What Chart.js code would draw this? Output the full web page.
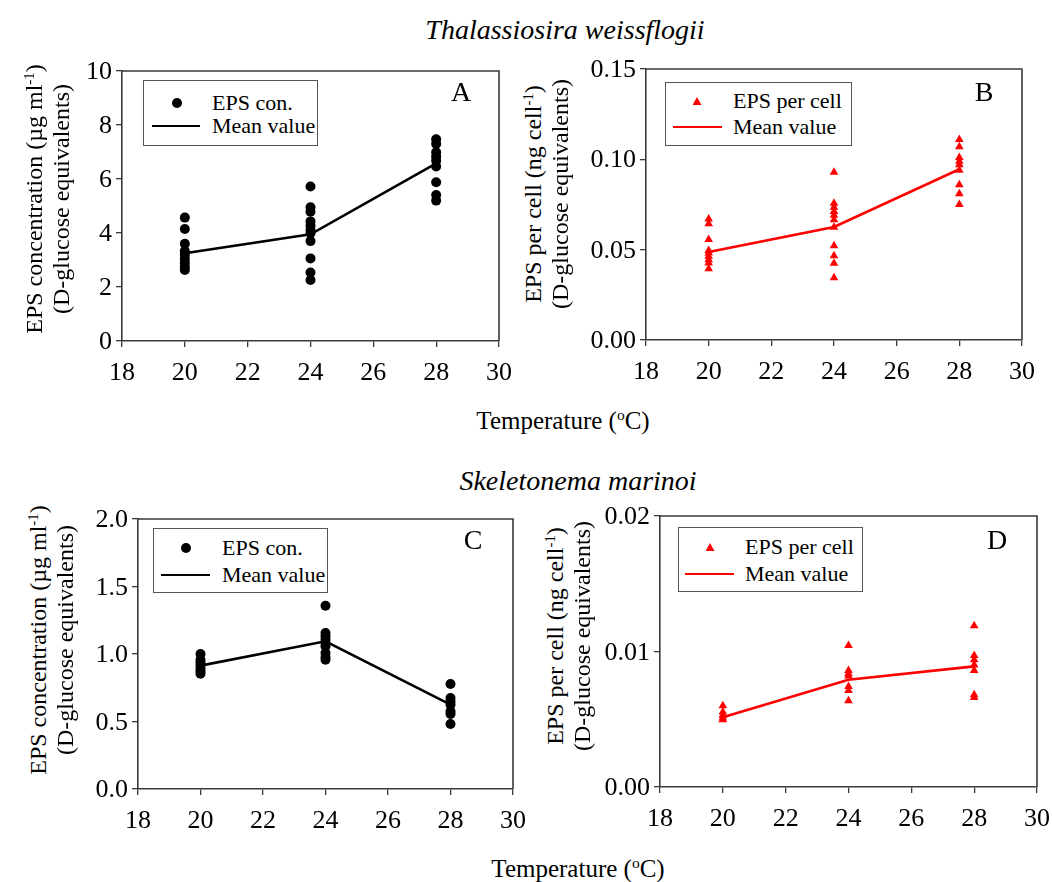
<!DOCTYPE html>
<html>
<head>
<meta charset="utf-8">
<script src="https://cdn.jsdelivr.net/npm/chart.js@4.4.1/dist/chart.umd.min.js"></script>
<style>
  html, body { margin:0; padding:0; background:#fff; }
  #page { position:relative; width:1052px; height:882px; overflow:hidden; font-family:"Liberation Serif","Times New Roman",serif; color:#000; }
  canvas { position:absolute; }
  .t { position:absolute; white-space:nowrap; line-height:1; }
  .sup { font-size:0.62em; position:relative; top:-0.55em; }
  .leg { position:absolute; border:1px solid #555; background:#fff; box-sizing:border-box; }
</style>
</head>
<body>
<div id="page"></div>
<script>
// ---------------- DATA ----------------
const temps = [20, 24, 28];
const xTicks = [18, 20, 22, 24, 26, 28, 30];

// Panel A: Thalassiosira weissflogii, EPS concentration (µg ml-1)
const A20 = [4.57, 4.15, 3.60, 3.33, 3.19, 3.04, 2.90, 2.75, 2.63];
const A24 = [5.72, 4.95, 4.79, 4.43, 4.27, 4.11, 3.99, 3.70, 3.06, 2.54, 2.26];
const A28 = [7.47, 7.30, 6.99, 6.83, 6.68, 6.46, 5.88, 5.41, 5.20];
const AMean = [3.25, 3.95, 6.58];
const ATicks = [0, 2, 4, 6, 8, 10];

// Panel B: Thalassiosira weissflogii, EPS per cell (ng cell-1)
const B20 = [0.0670, 0.0643, 0.0556, 0.0496, 0.0481, 0.0463, 0.0444, 0.0426, 0.0394];
const B24 = [0.0929, 0.0757, 0.0735, 0.0711, 0.0690, 0.0665, 0.0624, 0.0521, 0.0467, 0.0425, 0.0345];
const B28 = [0.111, 0.107, 0.101, 0.099, 0.097, 0.094, 0.086, 0.081, 0.075];
const BMean = [0.0487, 0.0626, 0.0945];
const BTicks = [0.00, 0.05, 0.10, 0.15];

// Panel C: Skeletonema marinoi, EPS concentration
const C20 = [1.00, 0.958, 0.938, 0.914, 0.891, 0.872, 0.854];
const C24 = [1.358, 1.156, 1.131, 1.106, 1.081, 1.057, 1.007, 0.978, 0.958];
const C28 = [0.778, 0.674, 0.649, 0.625, 0.575, 0.556, 0.481];
const CMean = [0.914, 1.094, 0.625];
const CTicks = [0.0, 0.5, 1.0, 1.5, 2.0];

// Panel D: Skeletonema marinoi, EPS per cell
const D20 = [0.0060, 0.00553, 0.00528, 0.00510, 0.00496];
const D24 = [0.01044, 0.0086, 0.00835, 0.0082, 0.00742, 0.00712, 0.00636];
const D28 = [0.0119, 0.0097, 0.0094, 0.0090, 0.0086, 0.0068, 0.0066];
const DMean = [0.00514, 0.00791, 0.0089];
const DTicks = [0.00, 0.01, 0.02];

// ---------------- LAYOUT ----------------
const page = document.getElementById('page');
const AXIS = '#3a3a3a';
const TICK_SIZE = 26;

function txt(html, x, y, o) {
  o = o || {};
  const d = document.createElement('div');
  d.className = 't';
  d.innerHTML = html;
  d.style.fontSize = (o.size || 22) + 'px';
  if (o.italic) d.style.fontStyle = 'italic';
  d.style.left = x + 'px';
  d.style.top = y + 'px';
  let tr = o.anchor === 'left' ? 'translate(0,-50%)'
         : o.anchor === 'right' ? 'translate(-100%,-50%)'
         : 'translate(-50%,-50%)';
  if (o.rotate) tr += ' rotate(-90deg)';
  d.style.transform = tr;
  page.appendChild(d);
}

function scatterData(groups) {
  const out = [];
  groups.forEach((g, i) => g.forEach(v => out.push({ x: temps[i], y: v })));
  return out;
}
function lineData(m) { return m.map((v, i) => ({ x: temps[i], y: v })); }

const framePlugin = {
  id: 'frame',
  afterDraw(chart) {
    const a = chart.chartArea, c = chart.ctx;
    c.save();
    c.strokeStyle = AXIS; c.lineWidth = 1.6;
    c.beginPath();
    c.moveTo(a.left, a.top); c.lineTo(a.right, a.top); c.lineTo(a.right, a.bottom);
    c.stroke();
    c.restore();
  }
};

// Tick labels as page text, placed with the chart's own scales
const tickTextPlugin = {
  id: 'tickText',
  afterDraw(chart) {
    if (chart.$tickDone) return;
    chart.$tickDone = true;
    const off = chart.$offset, dec = chart.$decimals;
    const xs = chart.scales.x, ys = chart.scales.y;
    xs.ticks.forEach(t => {
      txt(String(t.value), off[0] + xs.getPixelForValue(t.value), off[1] + xs.top + 31, { size: TICK_SIZE });
    });
    ys.ticks.forEach(t => {
      txt(Number(t.value).toFixed(dec), off[0] + ys.right - 10, off[1] + ys.getPixelForValue(t.value), { size: TICK_SIZE, anchor: 'right' });
    });
  }
};

function makePanel(area, groups, mean, yTicks, decimals, color, style) {
  const [L, T, R, B] = area;
  const cv = document.createElement('canvas');
  const w = R - L + 90, h = B - T + 60;
  cv.width = w; cv.height = h;
  cv.style.left = (L - 80) + 'px'; cv.style.top = (T - 10) + 'px';
  cv.style.width = w + 'px'; cv.style.height = h + 'px';
  page.appendChild(cv);
  const ch = new Chart(cv, {
    type: 'scatter',
    data: {
      datasets: [
        { type: 'line', data: lineData(mean), borderColor: color, borderWidth: 2.6, pointRadius: 0, fill: false, tension: 0, order: 2 },
        { type: 'scatter', data: scatterData(groups), pointStyle: style, pointRadius: 5, pointHoverRadius: 5,
          backgroundColor: color, borderColor: color, borderWidth: 0, order: 1 }
      ]
    },
    options: {
      responsive: false, animation: false, devicePixelRatio: 1,
      layout: { padding: { left: 0, top: 10, right: 10, bottom: 0 } },
      plugins: { legend: { display: false }, tooltip: { enabled: false } },
      scales: {
        x: {
          type: 'linear', min: xTicks[0], max: xTicks[xTicks.length - 1],
          afterBuildTicks: s => { s.ticks = xTicks.map(v => ({ value: v })); },
          afterFit: s => { s.height = 50; },
          grid: { display: true, drawOnChartArea: false, drawTicks: true, tickLength: 6, color: AXIS, lineWidth: 1.3 },
          border: { display: true, color: AXIS, width: 1.6 },
          ticks: { display: false }
        },
        y: {
          type: 'linear', min: yTicks[0], max: yTicks[yTicks.length - 1],
          afterBuildTicks: s => { s.ticks = yTicks.map(v => ({ value: v })); },
          afterFit: s => { s.width = 80; },
          grid: { display: true, drawOnChartArea: false, drawTicks: true, tickLength: 6, color: AXIS, lineWidth: 1.3 },
          border: { display: true, color: AXIS, width: 1.6 },
          ticks: { display: false }
        }
      }
    },
    plugins: [framePlugin, tickTextPlugin]
  });
  return ch;
}

function setupPanel(area, groups, mean, yTicks, decimals, color, style) {
  // offset and decimals must be known before the first draw
  const origDraw = Chart.prototype.draw;
  const [L, T] = area;
  Chart.prototype.$pending = { off: [L - 80, T - 10], dec: decimals };
  return makePanel(area, groups, mean, yTicks, decimals, color, style);
}

// register offsets through a beforeInit hook
Chart.register({
  id: 'offsetInit',
  beforeInit(chart) {
    const p = Chart.prototype.$pending;
    chart.$offset = p.off; chart.$decimals = p.dec;
  }
});

function legend(box, marker, color, label1, mk, lineX, textX, y1, y2) {
  const d = document.createElement('div');
  d.className = 'leg';
  d.style.left = box[0] + 'px'; d.style.top = box[1] + 'px';
  d.style.width = (box[2] - box[0]) + 'px'; d.style.height = (box[3] - box[1]) + 'px';
  page.appendChild(d);
  const m = document.createElement('div');
  m.style.position = 'absolute';
  if (marker === 'circle') {
    m.style.width = '10px'; m.style.height = '10px'; m.style.borderRadius = '50%';
    m.style.background = color; m.style.left = (mk - 5) + 'px'; m.style.top = (y1 - 5) + 'px';
  } else {
    m.style.width = '9px'; m.style.height = '8px'; m.style.background = color;
    m.style.clipPath = 'polygon(50% 0, 100% 100%, 0 100%)';
    m.style.left = (mk - 4.5) + 'px'; m.style.top = (y1 - 4) + 'px';
  }
  page.appendChild(m);
  const ln = document.createElement('div');
  ln.style.position = 'absolute'; ln.style.background = color;
  ln.style.left = lineX[0] + 'px'; ln.style.width = (lineX[1] - lineX[0]) + 'px';
  ln.style.top = (y2 - 1.3) + 'px'; ln.style.height = '2.6px';
  page.appendChild(ln);
  txt(label1, textX, y1, { anchor: 'left', size: 22 });
  txt('Mean value', textX, y2, { anchor: 'left', size: 22 });
}

// Panels
setupPanel([122, 71, 499, 341], [A20, A24, A28], AMean, ATicks, 0, '#000', 'circle');
setupPanel([646, 69, 1022, 340], [B20, B24, B28], BMean, BTicks, 2, '#ff0000', 'triangle');
setupPanel([138, 519, 513, 789], [C20, C24, C28], CMean, CTicks, 1, '#000', 'circle');
setupPanel([660, 516, 1037, 787], [D20, D24, D28], DMean, DTicks, 2, '#ff0000', 'triangle');

// Legends
legend([143, 80, 318, 146], 'circle', '#000', 'EPS con.', 177, [152, 200], 212, 103, 126);
legend([665, 82, 852, 146], 'triangle', '#ff0000', 'EPS per cell', 697, [673, 722], 733, 101, 127);
legend([153, 528, 328, 593], 'circle', '#000', 'EPS con.', 186, [161, 210], 222, 548, 575);
legend([678, 527, 863, 592], 'triangle', '#ff0000', 'EPS per cell', 710, [685, 734], 745, 547, 574);

// Panel letters
txt('A', 461, 92, { size: 28 });
txt('B', 984, 92, { size: 28 });
txt('C', 473, 540, { size: 28 });
txt('D', 997, 540, { size: 28 });

// Titles
txt('Thalassiosira weissflogii', 565, 30, { size: 28, italic: true });
txt('Skeletonema marinoi', 578, 481, { size: 28, italic: true });
txt('Temperature (<span class="sup">o</span>C)', 563, 420, { size: 25 });
txt('Temperature (<span class="sup">o</span>C)', 578, 868, { size: 25 });

// Y axis titles
txt('EPS concentration (\u00b5g ml<span class="sup">-1</span>)', 34, 199, { size: 24, rotate: true });
txt('(D-glucose equivalents)', 61, 199, { size: 24, rotate: true });
txt('EPS per cell (ng cell<span class="sup">-1</span>)', 533, 194, { size: 24, rotate: true });
txt('(D-glucose equivalents)', 560, 194, { size: 24, rotate: true });
txt('EPS concentration (\u00b5g ml<span class="sup">-1</span>)', 38, 640, { size: 24, rotate: true });
txt('(D-glucose equivalents)', 65, 640, { size: 24, rotate: true });
txt('EPS per cell (ng cell<span class="sup">-1</span>)', 555, 636, { size: 24, rotate: true });
txt('(D-glucose equivalents)', 582, 636, { size: 24, rotate: true });
</script>
</body>
</html>
